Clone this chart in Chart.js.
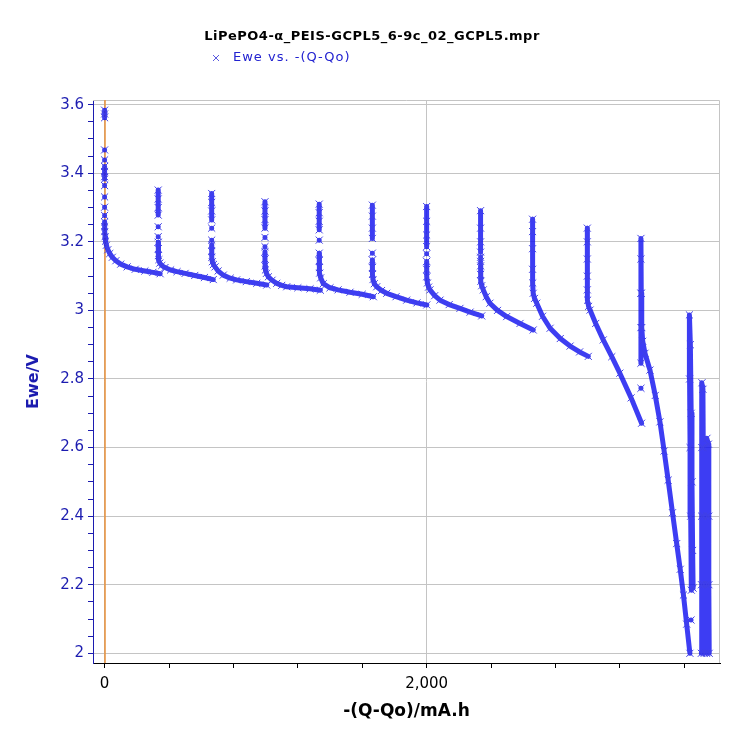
<!DOCTYPE html>
<html>
<head>
<meta charset="utf-8">
<script src="https://cdn.jsdelivr.net/npm/chart.js@4.4.1/dist/chart.umd.min.js"></script>
<style>
body{margin:0;background:#fff}
canvas{display:block}
</style>
</head>
<body>
<canvas id="eweChart" width="743" height="747"></canvas>
<script>
// -(Q-Qo) in mA.h, Ewe in V; null = break between runs of points
const step0 = [[0,3.584],[0,3.573],[0,3.562],null,
  [0,3.468],null,[0,3.439],null,[0,3.420],[0,3.405],[0,3.390],null,
  [0,3.383],null,[0,3.364],null,[0,3.331],null,[0,3.301],null,[0,3.277],null,
  [0,3.258],[0,3.244],[1,3.230],[3,3.215],[6,3.202],[11,3.190],[20,3.177],[32,3.166],[48,3.155],
  [70,3.145],[100,3.135],[140,3.127],[190,3.120],[250,3.115],[300,3.111],[345,3.107]];
const step1 = [[333,3.278],[333,3.300],[333,3.325],[333,3.351],null,
  [333,3.244],null,[333,3.215],null,
  [333,3.199],[333,3.180],[334,3.160],[337,3.148],[343,3.138],[355,3.131],[375,3.125],[410,3.118],
  [450,3.113],[500,3.108],[560,3.102],[620,3.096],[675,3.090]];
const step2 = [[665,3.264],[665,3.290],[665,3.315],[665,3.341],null,
  [665,3.240],null,[665,3.205],null,
  [665,3.191],[665,3.172],[666,3.155],[669,3.142],[676,3.134],[686,3.127],[705,3.115],[737,3.103],
  [780,3.094],[820,3.089],[880,3.084],[945,3.079],[1007,3.074]];
const step3 = [[996,3.240],[996,3.265],[996,3.290],[996,3.317],null,
  [996,3.213],null,[996,3.186],null,
  [996,3.171],[996,3.150],[997,3.130],[999,3.118],[1005,3.108],[1017,3.098],[1040,3.088],[1069,3.079],
  [1100,3.073],[1131,3.069],[1200,3.066],[1276,3.063],[1340,3.059]];
const step4 = [[1333,3.235],[1333,3.260],[1333,3.285],[1333,3.310],null,
  [1333,3.205],null,
  [1333,3.167],[1333,3.145],[1334,3.125],[1336,3.109],[1342,3.095],[1358,3.078],[1400,3.066],
  [1450,3.060],[1524,3.053],[1600,3.047],[1669,3.040]];
const step5 = [[1663,3.210],[1663,3.240],[1663,3.275],[1663,3.307],null,
  [1663,3.167],null,
  [1663,3.147],[1663,3.125],[1664,3.105],[1667,3.090],[1675,3.078],[1690,3.069],[1720,3.058],
  [1752,3.050],[1810,3.040],[1876,3.030],[1940,3.022],[2001,3.016]];
const step6 = [[2000,3.186],[2000,3.220],[2000,3.260],[2000,3.303],null,
  [2000,3.165],null,
  [2000,3.143],[2000,3.120],[2001,3.098],[2005,3.080],[2012,3.068],[2021,3.060],[2050,3.043],
  [2083,3.030],[2140,3.017],[2207,3.006],[2270,2.995],[2342,2.984]];
const step7 = [[2335,3.170],[2335,3.200],[2335,3.240],[2335,3.291],null,
  [2335,3.155],null,[2335,3.143],null,
  [2335,3.130],[2335,3.105],[2337,3.085],[2342,3.072],[2352,3.060],[2370,3.040],[2393,3.021],
  [2440,3.000],[2497,2.982],[2580,2.962],[2662,2.943]];
const step8 = [[2658,3.266],[2658,3.230],[2658,3.180],[2658,3.120],[2659,3.080],[2662,3.050],
  [2670,3.035],[2684,3.021],[2720,2.983],[2767,2.948],[2830,2.918],[2891,2.896],[2950,2.879],[3004,2.866]];
const step9 = [[2998,3.240],[2998,3.200],[2998,3.150],[2998,3.100],[2998,3.060],[3000,3.030],
  [3006,3.012],[3015,3.001],[3050,2.962],[3097,2.914],[3150,2.865],[3200,2.817],[3270,2.745],[3335,2.671]];
const step10 = [[3331,2.773],null,
  [3331,2.846],[3331,2.950],[3331,3.050],[3331,3.150],[3331,3.210],[3333,3.050],[3336,2.950],
  [3342,2.910],[3356,2.875],[3387,2.826],[3420,2.752],[3449,2.675],[3475,2.590],[3500,2.505],
  [3527,2.410],[3553,2.320],[3575,2.245],[3595,2.170],[3615,2.085],[3635,2.000]];
const step11 = [[3642,2.097],null,
  [3644,2.184],[3640,2.400],[3636,2.600],[3633,2.800],[3632,2.987],[3638,2.900],[3643,2.700],
  [3648,2.500],[3652,2.300],[3655,2.190]];
const step12 = [[3706,2.000],[3707,2.200],[3708,2.400],[3709,2.600],[3710,2.789],[3716,2.770],
  [3718,2.600],[3720,2.400],[3722,2.200],[3724,2.000]];
const step13 = [[3738,2.000],[3739,2.200],[3740,2.400],[3741,2.627],[3750,2.610],[3752,2.400],
  [3753,2.200],[3755,2.000]];

const steps = [step0, step1, step2, step3, step4, step5, step6, step7, step8, step9, step10, step11, step12, step13];
const xTicks = [0, 400, 800, 1200, 1600, 2000, 2400, 2800, 3200, 3600];
const xLabelEvery = 2000;
const cursorQ = 0;
const seriesLabel = "Ewe vs. -(Q-Qo)";
const fileTitle = "LiPePO4-\u03b1_PEIS-GCPL5_6-9c_02_GCPL5.mpr";

const gap = {x: null, y: null};
const curve = [];
steps.forEach(s => {
  s.forEach(p => curve.push(p ? {x: p[0], y: p[1]} : gap));
  curve.push(gap);
});

const blue = "#1c1cb0";
const gridGray = "#c4c4c4";
const isMajorY = v => {
  const k = v / 0.2;
  return Math.abs(k - Math.round(k)) < 1e-6;
};

Chart.defaults.font.family = "'DejaVu Sans', sans-serif";

const frame = {
  id: "frame",
  beforeDatasetsDraw(chart) {
    const {ctx, chartArea: a, scales} = chart;
    ctx.save();
    ctx.strokeStyle = gridGray;
    ctx.lineWidth = 1;
    ctx.beginPath();
    ctx.moveTo(a.left, a.top + 0.5);
    ctx.lineTo(a.right - 0.5, a.top + 0.5);
    ctx.lineTo(a.right - 0.5, a.bottom);
    ctx.stroke();
    const cx = Math.round(scales.x.getPixelForValue(cursorQ));
    ctx.strokeStyle = "#e8913a";
    ctx.lineWidth = 1.5;
    ctx.beginPath();
    ctx.moveTo(cx, a.top);
    ctx.lineTo(cx, a.bottom);
    ctx.stroke();
    ctx.restore();
  },
  afterDraw(chart) {
    const ctx = chart.ctx;
    ctx.save();
    ctx.fillStyle = "#000";
    ctx.font = "bold 13px 'DejaVu Sans', sans-serif";
    ctx.letterSpacing = "0.5px";
    ctx.textAlign = "center";
    ctx.textBaseline = "middle";
    ctx.fillText(fileTitle, 372, 37);
    ctx.strokeStyle = "#5a5ae0";
    ctx.lineWidth = 1;
    ctx.beginPath();
    ctx.moveTo(213, 55); ctx.lineTo(219, 61);
    ctx.moveTo(219, 55); ctx.lineTo(213, 61);
    ctx.stroke();
    ctx.fillStyle = "#2222d0";
    ctx.font = "13px 'DejaVu Sans', sans-serif";
    ctx.letterSpacing = "1px";
    ctx.textAlign = "left";
    ctx.fillText(seriesLabel, 233, 58);
    ctx.restore();
  }
};

new Chart(document.getElementById("eweChart"), {
  type: "scatter",
  data: {
    datasets: [{
      label: seriesLabel,
      data: curve,
      showLine: true,
      spanGaps: false,
      borderColor: "rgba(18,18,240,0.82)",
      borderWidth: 5,
      borderCapStyle: "round",
      borderJoinStyle: "round",
      pointStyle: "crossRot",
      pointRadius: 5,
      pointBorderWidth: 1,
      pointBorderColor: "#4040e4",
      pointBackgroundColor: "transparent"
    }]
  },
  options: {
    responsive: false,
    animation: false,
    devicePixelRatio: 1,
    layout: {padding: {top: 100, right: 23}},
    plugins: {legend: {display: false}, tooltip: {enabled: false}},
    scales: {
      x: {
        type: "linear",
        min: -72,
        max: 3822,
        afterFit(s) { s.height = 84; },
        afterBuildTicks(s) { s.ticks = xTicks.map(v => ({value: v})); },
        border: {color: "#000", width: 1},
        grid: {
          color: c => (c.tick && c.tick.value % xLabelEvery === 0) ? gridGray : "transparent",
          tickColor: "#000",
          tickLength: 5
        },
        ticks: {
          autoSkip: false,
          maxRotation: 0,
          padding: 7,
          color: "#000",
          font: {size: 15},
          callback: v => v % xLabelEvery === 0 ? v.toLocaleString("en-US") : ""
        },
        title: {
          display: true,
          text: "-(Q-Qo)/mA.h",
          color: "#000",
          font: {size: 17, weight: "bold"},
          padding: {top: 0, bottom: 25}
        }
      },
      y: {
        type: "linear",
        min: 1.9717,
        max: 3.6137,
        afterFit(s) { s.width = 93; },
        border: {color: blue, width: 1},
        grid: {
          color: c => (c.tick && isMajorY(c.tick.value)) ? gridGray : "transparent",
          tickColor: blue,
          tickLength: 5
        },
        ticks: {
          stepSize: 0.05,
          includeBounds: false,
          autoSkip: false,
          padding: 4,
          color: blue,
          font: {size: 15},
          callback: v => isMajorY(v) ? String(Math.round(v * 10) / 10) : ""
        },
        title: {
          display: true,
          text: "Ewe/V",
          color: blue,
          font: {size: 16, weight: "bold"},
          padding: {top: 24, bottom: 0}
        }
      }
    }
  },
  plugins: [frame]
});
</script>
</body>
</html>
